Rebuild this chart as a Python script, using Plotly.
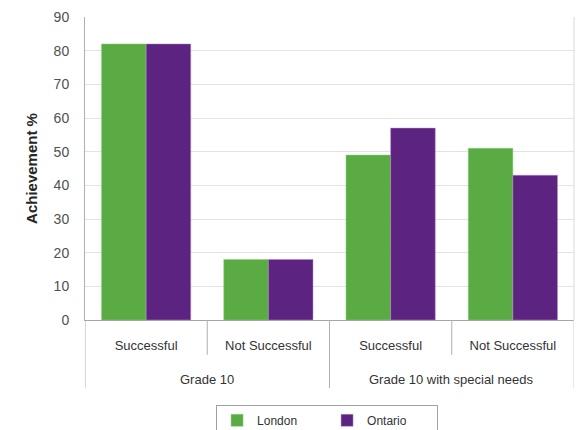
import plotly.graph_objects as go

groups = ["Grade 10", "Grade 10 with special needs"]
outcomes = ["Successful", "Not Successful", "Successful", "Not Successful"]
group_of = [0, 0, 1, 1]
london = [82, 18, 49, 51]
ontario = [82, 18, 57, 43]
y_ticks = [0, 10, 20, 30, 40, 50, 60, 70, 80, 90]

green = "#5aab44"
purple = "#5c2380"
font_family = "Arial, Liberation Sans, sans-serif"
xpos = list(range(len(outcomes)))

fig = go.Figure()
fig.add_trace(go.Bar(x=xpos, y=london, name="London", marker=dict(color=green, line=dict(color="#8fd07a", width=0.5))))
fig.add_trace(go.Bar(x=xpos, y=ontario, name="Ontario", marker=dict(color=purple, line=dict(color="#b48ccc", width=0.5))))

shapes = []
n = len(outcomes)
for i in range(n + 1):
    xb = i - 0.5
    outer = (i == 0 or i == n or group_of[i - 1] != group_of[min(i, n - 1)])
    shapes.append(dict(type="line", xref="x", yref="paper", x0=xb, x1=xb,
                       y0=0, y1=-0.224 if outer else -0.115,
                       line=dict(color="#b0b0b0" if i != n else "#d0d0d0", width=1)))
shapes.append(dict(type="line", xref="paper", yref="paper", x0=1, x1=1, y0=0, y1=1,
                   line=dict(color="#d9d9d9", width=1)))

annotations = []
for g, name in enumerate(groups):
    idx = [i for i in xpos if group_of[i] == g]
    annotations.append(dict(x=sum(idx) / len(idx), y=-0.198, xref="x", yref="paper",
                            text=name, showarrow=False, yanchor="middle",
                            font=dict(family=font_family, size=13, color="#333333")))

fig.update_layout(
    width=575, height=422,
    margin=dict(l=77, r=9, t=9, b=110, autoexpand=False),
    paper_bgcolor="white", plot_bgcolor="white",
    barmode="group", bargap=0.27, bargroupgap=0,
    font=dict(family=font_family, size=13, color="#404040"),
    shapes=shapes, annotations=annotations,
    legend=dict(orientation="h", x=0.495, xanchor="center", y=-0.28, yanchor="top",
                bordercolor="#a0a0a0", borderwidth=1, font=dict(size=12, color="#333333"),
                itemwidth=30, entrywidth=65, tracegroupgap=0),
    xaxis=dict(tickmode="array", tickvals=xpos, ticktext=outcomes, range=[-0.5, n - 0.5],
               showgrid=False, showline=True, linecolor="#a6a6a6", ticks="",
               tickfont=dict(size=13, color="#333333"), ticklabelstandoff=13, automargin=False),
    yaxis=dict(range=[0, 90], tickvals=y_ticks, showgrid=True, gridcolor="#e3e3e3",
               showline=True, linecolor="#b0b0b0", ticks="", zeroline=False,
               tickfont=dict(size=14, color="#505050"), ticklabelstandoff=12, automargin=False,
               title=dict(text="<b>Achievement %</b>", font=dict(size=15, color="#262626"), standoff=12)),
)

fig.write_html("out.html")
